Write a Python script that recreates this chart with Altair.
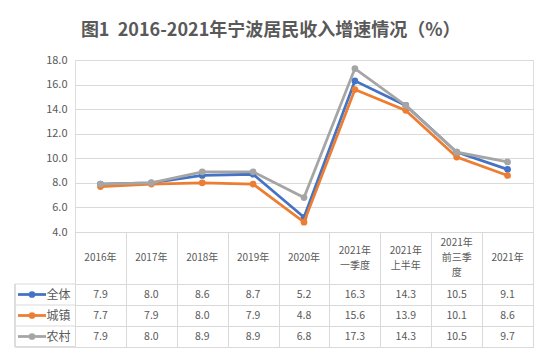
import altair as alt
import pandas as pd

categories = ["2016年", "2017年", "2018年", "2019年", "2020年",
              "2021年\n一季度", "2021年\n上半年", "2021年\n前三季\n度", "2021年"]
series = ["全体", "城镇", "农村"]
quanti = [7.9, 8.0, 8.6, 8.7, 5.2, 16.3, 14.3, 10.5, 9.1]
chengzhen = [7.7, 7.9, 8.0, 7.9, 4.8, 15.6, 13.9, 10.1, 8.6]
nongcun = [7.9, 8.0, 8.9, 8.9, 6.8, 17.3, 14.3, 10.5, 9.7]
colors = ["#4472C4", "#ED7D31", "#A5A5A5"]
y_ticks = [4, 6, 8, 10, 12, 14, 16, 18]

rows = []
for s, vals in zip(series, [quanti, chengzhen, nongcun]):
    for c, v in zip(categories, vals):
        rows.append({"cat": c, "series": s, "value": v})
df = pd.DataFrame(rows)
ser_df = pd.DataFrame({"series": series})
hdr_df = pd.DataFrame({"cat": categories})

W = 458
HDR_H = 52
ROW_H = 63
LH = 15
TXT = "#595959"
GRID = "#d9d9d9"
color_enc = alt.Color("series:N", scale=alt.Scale(domain=series, range=colors), legend=None)

xp = alt.X("cat:N", scale=alt.Scale(type="point", domain=categories, padding=0.5), axis=None)
yq = alt.Y("value:Q", scale=alt.Scale(domain=[4, 18], nice=False, zero=False),
           axis=alt.Axis(values=y_ticks, format=".1f", grid=True, gridColor=GRID, domain=False,
                         ticks=False, labelPadding=8, labelColor=TXT, labelFontSize=11, title=None))

layers = []
for s in series:
    b = alt.Chart(df).transform_filter(alt.datum.series == s)
    layers.append(b.mark_line(strokeWidth=2.75).encode(x=xp, y=yq, color=color_enc))
    layers.append(b.mark_point(filled=True, size=45, opacity=1).encode(x=xp, y=yq, color=color_enc))
main = alt.layer(*layers).properties(width=W, height=172)

xb_hdr = alt.X("cat:N", scale=alt.Scale(type="band", domain=categories, paddingInner=0, paddingOuter=0),
               axis=alt.Axis(orient="top", grid=True, tickBand="extent", gridColor=GRID,
                             domainColor=GRID, labels=False, ticks=False, title=None))
header = alt.Chart(hdr_df).transform_calculate(
    ypos=f"{HDR_H / 2} - (length(split(datum.cat, '\\n')) - 1) * {LH / 2}"
).mark_text(lineBreak="\n", baseline="middle", fontSize=10, color=TXT, lineHeight=LH).encode(
    x=xb_hdr, y=alt.Y("ypos:Q", scale=None, axis=None), text="cat:N"
).properties(width=W, height=HDR_H)

xb_row = alt.X("cat:N", scale=alt.Scale(type="band", domain=categories, paddingInner=0, paddingOuter=0),
               axis=alt.Axis(grid=True, tickBand="extent", gridColor=GRID, domain=False,
                             labels=False, ticks=False, title=None))
yb_row = alt.Y("series:N", scale=alt.Scale(type="band", domain=series, paddingInner=0, paddingOuter=0),
               axis=alt.Axis(grid=True, tickBand="extent", gridColor=GRID, domain=False, ticks=False,
                             labelPadding=5, labelColor=TXT, labelFontSize=12, title=None))

vals_text = alt.Chart(df).mark_text(fontSize=10.5, color=TXT, baseline="middle").encode(
    x=xb_row, y=yb_row, text=alt.Text("value:Q", format=".1f"))
ext_lines = alt.Chart(ser_df).mark_rule(color=GRID, strokeWidth=1).encode(
    y=alt.Y("series:N", bandPosition=0), x=alt.value(-60), x2=alt.value(0))
ext_bottom = alt.Chart(ser_df).mark_rule(color=GRID, strokeWidth=1).encode(
    y=alt.value(ROW_H), x=alt.value(-60), x2=alt.value(0))
ext_left = alt.Chart(ser_df).mark_rule(color=GRID, strokeWidth=1).encode(
    x=alt.value(-60), y=alt.value(0), y2=alt.value(ROW_H))
leg_line = alt.Chart(ser_df).mark_rule(strokeWidth=2.75).encode(
    y=alt.Y("series:N", bandPosition=0.5), x=alt.value(-57), x2=alt.value(-29), color=color_enc)
leg_pt = alt.Chart(ser_df).mark_point(filled=True, size=45, opacity=1).encode(
    y=alt.Y("series:N", bandPosition=0.5), x=alt.value(-43), color=color_enc)
table = alt.layer(vals_text, ext_lines, ext_bottom, ext_left, leg_line, leg_pt).properties(
    width=W, height=ROW_H)

chart = alt.vconcat(main, header, table, spacing=0, bounds="flush").properties(
    title=alt.Title("图1\u00a0\u00a02016-2021年宁波居民收入增速情况（%）", fontSize=18,
                    font="Noto Sans CJK SC", fontWeight="bold", color=TXT, anchor="middle",
                    offset=14, dx=-3),
    padding={"left": 6, "top": 13, "right": 5, "bottom": 5},
).configure_view(strokeWidth=0).configure(font="Noto Sans CJK SC")

chart.save("out.html", embed_options={"renderer": "svg", "actions": False})
